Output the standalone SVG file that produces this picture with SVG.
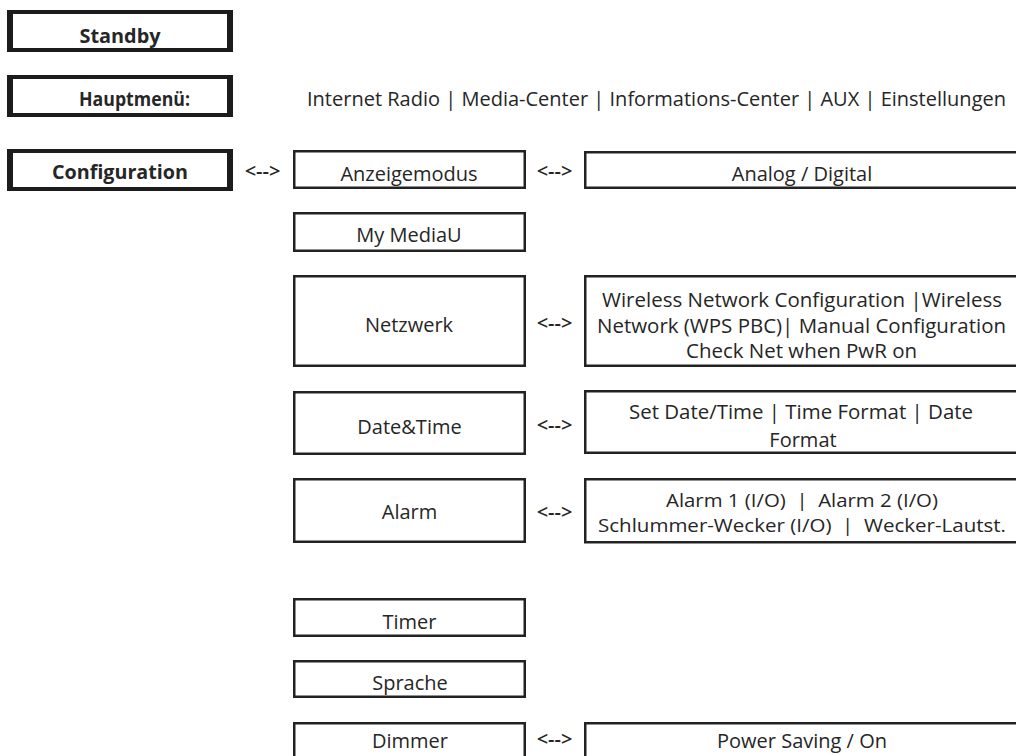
<svg xmlns="http://www.w3.org/2000/svg" width="1016" height="756" viewBox="0 0 1016 756">
<style>
text{font-family:"Open Sans","Noto Sans","Liberation Sans",sans-serif;fill:#262626;font-size:20px}
.c{text-anchor:middle}
.s{font-size:18px}
.b{font-weight:700;font-size:19px}
.box{fill:#fff;stroke:#222;stroke-width:2.5}
.tb{fill:#fff;stroke:#1c1c1c;stroke-width:4}
.side{stroke:#1c1c1c;stroke-width:6}
.arr{font-weight:600;text-anchor:middle}
</style>
<rect width="1016" height="756" fill="#fff"/>
<g id="standby">
<rect class="tb" x="9" y="12" width="222" height="38"/>
<line class="side" x1="10" y1="10" x2="10" y2="52"/><line class="side" x1="230" y1="10" x2="230" y2="52"/>
<text class="b c" x="120" y="43" textLength="81" lengthAdjust="spacingAndGlyphs">Standby</text>
</g>
<g id="hauptmenu">
<rect class="tb" x="9" y="77" width="222" height="38"/>
<line class="side" x1="10" y1="75" x2="10" y2="117"/><line class="side" x1="230" y1="75" x2="230" y2="117"/>
<text class="b" x="79" y="106" textLength="111" lengthAdjust="spacingAndGlyphs">Hauptmenü:</text>
</g>
<g id="hauptmenu-items">
<text x="307" y="106" textLength="699" lengthAdjust="spacingAndGlyphs">Internet Radio | Media-Center | Informations-Center | AUX | Einstellungen</text>
</g>
<g id="configuration">
<rect class="tb" x="9" y="151" width="222" height="38"/>
<line class="side" x1="10" y1="149" x2="10" y2="191"/><line class="side" x1="230" y1="149" x2="230" y2="191"/>
<text class="b c" x="120" y="179" textLength="136" lengthAdjust="spacingAndGlyphs">Configuration</text>
</g>
<g id="anzeigemodus">
<rect class="box" x="294.25" y="151.25" width="230.5" height="36.5"/>
<text class="c" x="409" y="181">Anzeigemodus</text>
</g>
<g id="analog-digital">
<rect class="box" x="585.25" y="152.25" width="440" height="35.5"/>
<text class="c" x="802" y="181">Analog / Digital</text>
</g>
<g id="mymediau">
<rect class="box" x="294.25" y="213.25" width="230.5" height="37.5"/>
<text class="c" x="409" y="242">My MediaU</text>
</g>
<g id="netzwerk">
<rect class="box" x="294.25" y="276.25" width="230.5" height="89.5"/>
<text class="c" x="409" y="332">Netzwerk</text>
</g>
<g id="netzwerk-options">
<rect class="box" x="585.25" y="276.25" width="440" height="89.5"/>
<text class="c" x="802" y="307" textLength="400" lengthAdjust="spacingAndGlyphs">Wireless Network Configuration |Wireless</text>
<text class="c" x="801.5" y="333" textLength="409" lengthAdjust="spacingAndGlyphs">Network (WPS PBC)| Manual Configuration</text>
<text class="c" x="801.5" y="358" textLength="231" lengthAdjust="spacingAndGlyphs">Check Net when PwR on</text>
</g>
<g id="datetime">
<rect class="box" x="294.25" y="392.25" width="230.5" height="61.5"/>
<text class="c" x="409.5" y="434">Date&amp;Time</text>
</g>
<g id="datetime-options">
<rect class="box" x="585.25" y="391.25" width="440" height="61.5"/>
<text class="c" x="801" y="419" textLength="344" lengthAdjust="spacingAndGlyphs">Set Date/Time | Time Format | Date</text>
<text class="c" x="803" y="447">Format</text>
</g>
<g id="alarm">
<rect class="box" x="294.25" y="479.25" width="230.5" height="62.5"/>
<text class="c" x="409.5" y="519">Alarm</text>
</g>
<g id="alarm-options">
<rect class="box" x="585.25" y="479.25" width="440" height="63"/>
<text class="c s" x="802" y="507" textLength="272" lengthAdjust="spacingAndGlyphs" xml:space="preserve">Alarm 1 (I/O)  |  Alarm 2 (I/O)</text>
<text class="c s" x="802" y="532" textLength="408" lengthAdjust="spacingAndGlyphs" xml:space="preserve">Schlummer-Wecker (I/O)  |  Wecker-Lautst.</text>
</g>
<g id="timer">
<rect class="box" x="294.25" y="599.25" width="230.5" height="36.5"/>
<text class="c" x="409.5" y="629">Timer</text>
</g>
<g id="sprache">
<rect class="box" x="294.25" y="661.25" width="230.5" height="35.5"/>
<text class="c" x="410" y="690">Sprache</text>
</g>
<g id="dimmer">
<rect class="box" x="294.25" y="723.25" width="230.5" height="50"/>
<text class="c" x="410" y="748">Dimmer</text>
</g>
<g id="dimmer-options">
<rect class="box" x="585.25" y="723.25" width="440" height="50"/>
<text class="c" x="802" y="748">Power Saving / On</text>
</g>
<g id="connectors">
<text class="arr" x="262.5" y="178">&lt;--&gt;</text>
<text class="arr" x="554.5" y="178">&lt;--&gt;</text>
<text class="arr" x="554.5" y="330">&lt;--&gt;</text>
<text class="arr" x="554.5" y="432">&lt;--&gt;</text>
<text class="arr" x="554.5" y="519">&lt;--&gt;</text>
<text class="arr" x="554.5" y="746">&lt;--&gt;</text>
</g>
</svg>
